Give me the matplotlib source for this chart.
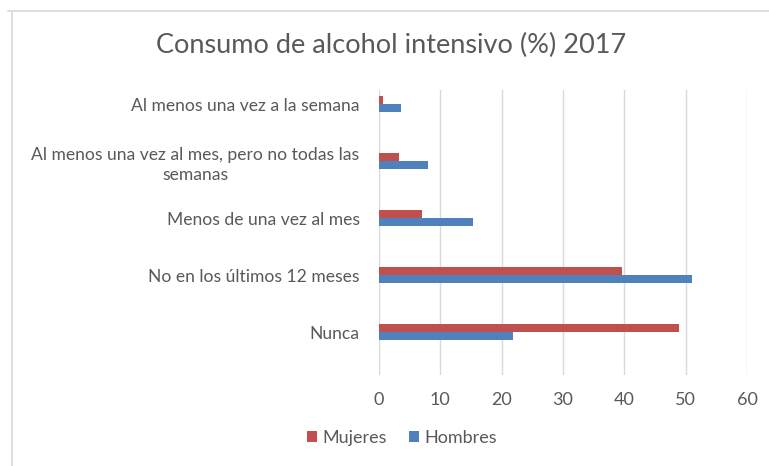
import numpy as np
import matplotlib.pyplot as plt
from matplotlib.lines import Line2D

plt.rcParams['font.family'] = ['Lato', 'DejaVu Sans']

categorias = ['Nunca',
              'No en los últimos 12 meses',
              'Menos de una vez al mes',
              'Al menos una vez al mes, pero no todas las\nsemanas',
              'Al menos una vez a la semana']
mujeres = [48.9, 39.7, 7.0, 3.3, 0.7]
hombres = [21.9, 51.0, 15.4, 8.0, 3.6]
ticks_x = [0, 10, 20, 30, 40, 50, 60]

ROJO = '#C0504D'
AZUL = '#4F81BD'
GRIS = '#595959'

fig = plt.figure(figsize=(7.69, 4.66), dpi=100)
ax = fig.add_axes([379 / 769, 1 - 375 / 466, (747 - 379) / 769, (375 - 90) / 466])

y = np.arange(len(categorias))
h = 0.135
ax.barh(y + h / 2, mujeres, height=h, color=ROJO, label='Mujeres', zorder=3)
ax.barh(y - h / 2, hombres, height=h, color=AZUL, label='Hombres', zorder=3)

ax.set_xlim(0, 60)
# las categorias no quedan centradas: hay mas espacio libre abajo
ax.set_ylim(-0.754, 4.246)
ax.set_xticks(ticks_x)
ax.set_yticks(y)
ax.set_yticklabels(categorias, fontsize=12.6, color=GRIS, ha='right',
                   multialignment='center', linespacing=1.35)
ax.tick_params(axis='both', length=0, labelcolor=GRIS)
ax.tick_params(axis='x', labelsize=13, pad=12)
ax.tick_params(axis='y', pad=14)
ax.grid(axis='x', color='#D9D9D9', linewidth=1)
for s in ax.spines.values():
    s.set_visible(False)

fig.text(391 / 769, 1 - 45 / 466, 'Consumo de alcohol intensivo (%) 2017',
         ha='center', va='center', fontsize=19.5, color=GRIS)

# borde del area del grafico (solo arriba e izquierda visibles)
fig.add_artist(Line2D([8 / 769, 1], [1 - 11 / 466] * 2, color='#D9D9D9', lw=1.2))
fig.add_artist(Line2D([11.5 / 769] * 2, [0, 1 - 11 / 466], color='#D9D9D9', lw=1.2))

fig.legend(loc='center', bbox_to_anchor=(402 / 769, 1 - 438 / 466), ncol=2,
           frameon=False, fontsize=13, labelcolor=GRIS,
           handlelength=0.55, handleheight=0.55, handletextpad=0.3, columnspacing=1.2)

fig.savefig('out.png', dpi=100)
